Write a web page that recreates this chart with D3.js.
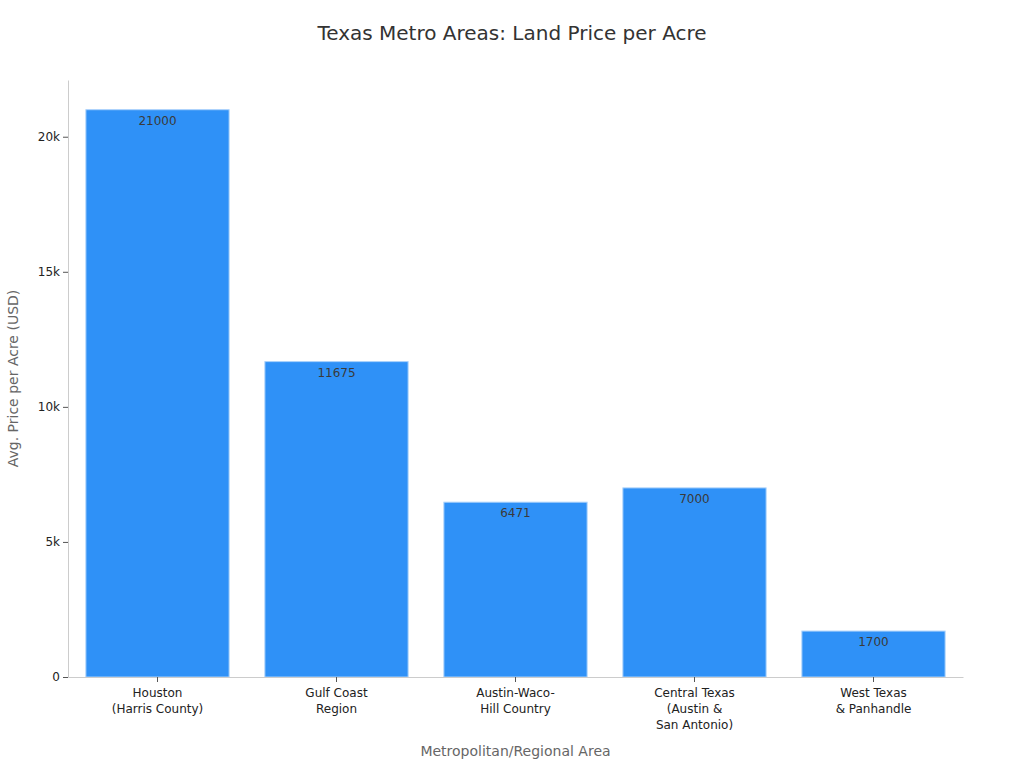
<!DOCTYPE html>
<html>
<head>
<meta charset="utf-8">
<script src="https://cdn.jsdelivr.net/npm/d3@7"></script>
<style>
  body { margin: 0; background: white; }
  text { font-family: "DejaVu Sans", sans-serif; }
</style>
</head>
<body>
<div id="vis"></div>
<script>
// chart data
let regions = [
  ['Houston', '(Harris County)'],
  ['Gulf Coast', 'Region'],
  ['Austin-Waco-', 'Hill Country'],
  ['Central Texas', '(Austin &', 'San Antonio)'],
  ['West Texas', '& Panhandle']
];
let prices = [21000, 11675, 6471, 7000, 1700];
let yTicks = [0, 5000, 10000, 15000, 20000];

let margin = { top: 80, left: 68, right: 61, bottom: 91 },
  width = 1024 - margin.left - margin.right,
  height = 768 - margin.top - margin.bottom;

let svg = d3.select('#vis')
  .append('svg')
  .attr('width', 1024)
  .attr('height', 768)
  .style('background-color', 'white');

let g = svg.append('g')
  .attr('transform', `translate(${margin.left},${margin.top})`);

let x = d3.scaleBand()
  .domain(d3.range(regions.length))
  .range([0, width])
  .paddingInner(0.2)
  .paddingOuter(0.1);

let y = d3.scaleLinear()
  .domain([0, 22100])
  .range([height, 0]);

// y axis
let yAxis = g.append('g')
  .call(d3.axisLeft(y).tickValues(yTicks).tickSizeInner(5).tickSizeOuter(0).tickPadding(3)
    .tickFormat(d => d === 0 ? '0' : (d / 1000) + 'k'));
yAxis.select('.domain').attr('stroke', '#ccc');
yAxis.selectAll('.tick line').attr('stroke', '#555');
yAxis.selectAll('.tick text').attr('fill', '#222').style('font-size', '12px');

// bars
g.selectAll('rect.bar')
  .data(prices)
  .join('rect')
  .attr('class', 'bar')
  .attr('x', (d, i) => x(i))
  .attr('y', d => y(d))
  .attr('width', x.bandwidth())
  .attr('height', d => height - y(d))
  .attr('fill', '#2f91f7')
  .attr('stroke', '#a9d0fb')
  .attr('stroke-width', 1);

// value labels
g.selectAll('text.val')
  .data(prices)
  .join('text')
  .attr('class', 'val')
  .attr('x', (d, i) => x(i) + x.bandwidth() / 2)
  .attr('y', d => y(d) + 15)
  .attr('text-anchor', 'middle')
  .attr('fill', '#3a3a3a')
  .style('font-size', '12px')
  .text(d => d);

// x axis
let xAxis = g.append('g')
  .attr('transform', `translate(0,${height})`)
  .call(d3.axisBottom(x).tickSizeInner(5).tickSizeOuter(0).tickFormat(''));
xAxis.select('.domain').attr('stroke', '#ccc');
xAxis.selectAll('.tick line').attr('stroke', '#555');

xAxis.selectAll('.tick')
  .append('text')
  .attr('fill', '#222')
  .attr('text-anchor', 'middle')
  .style('font-size', '12px')
  .selectAll('tspan')
  .data(i => regions[i])
  .join('tspan')
  .attr('x', 0)
  .attr('y', (d, j) => 20 + j * 16)
  .text(d => d);

// titles
svg.append('text')
  .attr('x', 512)
  .attr('y', 40)
  .attr('text-anchor', 'middle')
  .attr('fill', '#333')
  .style('font-size', '20px')
  .text('Texas Metro Areas: Land Price per Acre');

svg.append('text')
  .attr('x', margin.left + width / 2)
  .attr('y', 756)
  .attr('text-anchor', 'middle')
  .attr('fill', '#666')
  .style('font-size', '14px')
  .text('Metropolitan/Regional Area');

svg.append('text')
  .attr('transform', `translate(18,${margin.top + height / 2}) rotate(-90)`)
  .attr('text-anchor', 'middle')
  .attr('fill', '#666')
  .style('font-size', '14px')
  .text('Avg. Price per Acre (USD)');
</script>
</body>
</html>
